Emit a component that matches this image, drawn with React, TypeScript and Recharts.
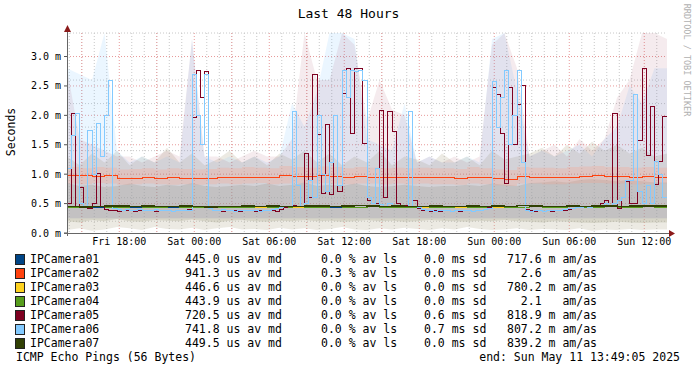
import React from "react";
import { ComposedChart, Line, Area, XAxis, YAxis, CartesianGrid } from "recharts";

// 20-minute medians (145 points, Fri 13:49 .. Sun 13:49), values in ms
const cam05 = [
  0.5, 2.04, 0.45, 0.77, 0.45, 0.42, 0.5, 1.02, 0.45,
  0.4, 0.39, 0.38, 0.37, 0.38, 0.39, 0.38, 0.37, 0.38, 0.39, 0.38, 0.38, 0.37, 0.38, 0.39, 0.38, 0.37, 0.38, 0.38, 0.39, 0.4,
  1.96, 2.77, 2.3, 2.75, 0.45,
  0.39, 0.38, 0.37, 0.38, 0.39, 0.38, 0.37, 0.38, 0.38, 0.39, 0.37, 0.38, 0.38, 0.39, 0.38, 0.37, 0.4, 0.44, 0.45, 0.46, 0.45, 0.45,
  1.36, 0.6, 2.69, 1.67, 0.68, 1.84, 0.65, 2.0, 0.7, 2.38, 2.8, 1.7, 2.8, 2.8, 1.53, 0.56, 0.5, 0.5, 2.09, 0.6, 2.07, 1.73, 0.5, 0.45, 0.46, 0.45, 0.55,
  0.42, 0.39, 0.38, 0.37, 0.38, 0.37, 0.38, 0.38, 0.37, 0.38, 0.37, 0.38, 0.38, 0.37, 0.38, 0.39, 0.4, 0.43,
  2.48, 2.35, 1.7, 0.85, 2.48, 1.5, 2.18, 2.5,
  0.4, 0.38, 0.37, 0.38, 0.37, 0.38, 0.37, 0.38, 0.38, 0.39, 0.4, 0.42, 0.43, 0.44, 0.45, 0.44, 0.45, 0.46, 0.5, 0.55, 0.45,
  2.04, 0.42, 0.6, 0.88, 0.5, 0.5, 1.58, 2.8, 1.31, 2.15, 0.82, 1.22, 1.98, 1.98,
];

const cam06 = [
  1.1, 1.65, 2.04, 0.5, 0.45, 1.75, 1.0, 1.87, 1.3, 2.0, 2.6,
  0.42, 0.4, 0.39, 0.4, 0.38, 0.39, 0.4, 0.38, 0.39, 0.38, 0.4, 0.39, 0.38, 0.39, 0.37, 0.38, 0.39, 0.38, 0.39,
  2.7, 2.0, 1.5, 2.7, 0.42,
  0.39, 0.38, 0.4, 0.38, 0.39, 0.37, 0.38, 0.39, 0.38, 0.38, 0.39, 0.37, 0.38, 0.39, 0.4, 0.41, 0.43, 0.45, 0.45,
  2.06, 0.8, 0.45, 0.5, 0.9, 0.6, 2.0, 1.0, 0.7, 1.2, 2.0, 0.8, 2.77, 2.3, 2.77, 2.75, 2.77, 2.6, 0.6, 0.5, 1.1, 0.48, 0.45, 0.5, 0.47, 0.45, 0.46, 0.45, 2.06, 0.45,
  0.43, 0.4, 0.38, 0.38, 0.37, 0.38, 0.39, 0.38, 0.37, 0.38, 0.38, 0.39, 0.38, 0.37, 0.38, 0.39, 0.4, 0.42,
  2.57, 1.8, 2.3, 2.77, 1.5, 2.0, 2.77, 1.2,
  0.38, 0.37, 0.38, 0.38, 0.37, 0.38, 0.39, 0.38, 0.38, 0.4, 0.41, 0.42, 0.43, 0.44, 0.45, 0.44, 0.45, 0.46, 0.45, 0.5, 0.45,
  0.5, 0.55, 0.6, 0.9, 0.9, 2.35, 0.7, 0.5, 0.8, 0.5, 1.22, 1.0, 0.6, 0.6,
];

// hourly medians (49 points)
const cam01 = [
  0.44, 0.45, 0.44, 0.45, 0.45, 0.44, 0.45, 0.44, 0.44, 0.45, 0.44, 0.44, 0.45, 0.44, 0.45, 0.44, 0.45, 0.44, 0.44, 0.45,
  0.45, 0.44, 0.45, 0.46, 0.45, 0.44, 0.45, 0.44, 0.44, 0.45, 0.44, 0.44, 0.45, 0.44, 0.45, 0.44, 0.46, 0.45, 0.44, 0.44,
  0.45, 0.44, 0.45, 0.45, 0.44, 0.45, 0.45, 0.45, 0.45,
];
const cam02 = [
  0.97, 0.97, 0.96, 0.97, 0.93, 0.93, 0.94, 0.93, 0.94, 0.93, 0.92, 0.92, 0.95, 0.94, 0.95, 0.95, 0.94, 0.98, 0.96, 0.96,
  0.97, 0.96, 0.95, 0.96, 0.95, 0.94, 0.95, 0.94, 0.95, 0.94, 0.94, 0.93, 0.95, 0.94, 0.92, 0.91, 0.96, 0.95, 0.95, 0.94,
  0.95, 0.96, 0.97, 0.96, 0.96, 0.95, 0.96, 0.95, 0.95,
];
const cam03 = [
  0.45, 0.44, 0.45, 0.45, 0.44, 0.45, 0.44, 0.45, 0.45, 0.44, 0.45, 0.45, 0.44, 0.45, 0.45, 0.44, 0.45, 0.45, 0.44, 0.45,
  0.44, 0.45, 0.45, 0.44, 0.45, 0.45, 0.44, 0.45, 0.44, 0.45, 0.45, 0.44, 0.45, 0.45, 0.44, 0.45, 0.44, 0.45, 0.45, 0.44,
  0.45, 0.45, 0.44, 0.45, 0.45, 0.44, 0.45, 0.45, 0.45,
];
const cam04 = [
  0.44, 0.44, 0.45, 0.44, 0.44, 0.45, 0.44, 0.44, 0.45, 0.44, 0.44, 0.45, 0.44, 0.44, 0.44, 0.45, 0.44, 0.44, 0.45, 0.44,
  0.44, 0.45, 0.44, 0.44, 0.45, 0.44, 0.44, 0.44, 0.45, 0.44, 0.44, 0.45, 0.44, 0.44, 0.45, 0.44, 0.44, 0.45, 0.44, 0.44,
  0.45, 0.44, 0.44, 0.45, 0.44, 0.44, 0.45, 0.44, 0.44,
];
const cam07 = [
  0.45, 0.44, 0.45, 0.46, 0.46, 0.45, 0.46, 0.45, 0.45, 0.46, 0.45, 0.44, 0.45, 0.45, 0.46, 0.45, 0.46, 0.45, 0.45, 0.46,
  0.46, 0.45, 0.46, 0.47, 0.46, 0.45, 0.46, 0.45, 0.45, 0.46, 0.45, 0.45, 0.46, 0.45, 0.46, 0.45, 0.47, 0.46, 0.45, 0.45,
  0.46, 0.45, 0.46, 0.46, 0.45, 0.46, 0.46, 0.46, 0.46,
];

// hourly smoke envelopes
const lowOuterLo = [
  0.05, 0.08, 0.04, 0.06, 0.1, 0.08, 0.05, 0.1, 0.07, 0.06, 0.09, 0.05, 0.08, 0.1, 0.06, 0.07, 0.05, 0.09, 0.06, 0.08,
  0.05, 0.07, 0.1, 0.06, 0.05, 0.08, 0.06, 0.09, 0.07, 0.05, 0.08, 0.06, 0.1, 0.07, 0.05, 0.06, 0.08, 0.05, 0.07, 0.06,
  0.05, 0.08, 0.04, 0.06, 0.05, 0.07, 0.05, 0.06, 0.06,
];
const lowOuterHi = [
  1.3, 1.15, 1.35, 1.2, 1.4, 1.15, 1.3, 1.2, 1.45, 1.2, 1.35, 1.15, 1.25, 1.4, 1.2, 1.3, 1.15, 1.35, 1.25, 1.4,
  1.2, 1.35, 1.15, 1.3, 1.2, 1.4, 1.15, 1.3, 1.25, 1.15, 1.35, 1.2, 1.3, 1.15, 1.4, 1.25, 1.3, 1.35, 1.45, 1.3,
  1.5, 1.35, 1.55, 1.4, 1.5, 1.35, 1.45, 1.3, 1.35,
];
const lowInnerLo = [
  0.2, 0.18, 0.22, 0.2, 0.24, 0.2, 0.19, 0.22, 0.21, 0.2, 0.23, 0.2, 0.18, 0.21, 0.22, 0.2, 0.19, 0.21, 0.2, 0.22,
  0.2, 0.21, 0.19, 0.2, 0.22, 0.2, 0.21, 0.19, 0.2, 0.22, 0.21, 0.2, 0.19, 0.21, 0.2, 0.22, 0.2, 0.19, 0.18, 0.2,
  0.19, 0.18, 0.17, 0.18, 0.19, 0.18, 0.17, 0.18, 0.18,
];
const lowInnerHi = [
  0.85, 0.8, 0.82, 0.78, 0.8, 0.84, 0.8, 0.78, 0.82, 0.8, 0.85, 0.8, 0.78, 0.8, 0.82, 0.8, 0.84, 0.8, 0.82, 0.86,
  0.8, 0.82, 0.8, 0.84, 0.8, 0.78, 0.8, 0.82, 0.8, 0.78, 0.8, 0.8, 0.82, 0.8, 0.84, 0.82, 0.8, 0.85, 0.86, 0.88,
  0.86, 0.9, 0.92, 0.9, 0.88, 0.9, 0.88, 0.86, 0.86,
];
const cam02SmokeLo = [
  0.84, 0.83, 0.85, 0.84, 0.82, 0.83, 0.84, 0.83, 0.82, 0.83, 0.82, 0.83, 0.84, 0.83, 0.84, 0.85, 0.83, 0.84, 0.85, 0.84,
  0.85, 0.84, 0.83, 0.84, 0.84, 0.83, 0.84, 0.83, 0.84, 0.83, 0.83, 0.82, 0.84, 0.83, 0.81, 0.8, 0.84, 0.84, 0.83, 0.83,
  0.84, 0.85, 0.85, 0.84, 0.84, 0.83, 0.84, 0.84, 0.84,
];
const cam02SmokeHi = [
  1.12, 1.1, 1.12, 1.11, 1.08, 1.09, 1.1, 1.08, 1.1, 1.09, 1.08, 1.09, 1.11, 1.1, 1.12, 1.11, 1.1, 1.14, 1.12, 1.11,
  1.13, 1.12, 1.1, 1.12, 1.11, 1.1, 1.11, 1.1, 1.11, 1.1, 1.1, 1.09, 1.12, 1.1, 1.08, 1.07, 1.12, 1.11, 1.11, 1.1,
  1.12, 1.13, 1.14, 1.12, 1.12, 1.11, 1.12, 1.11, 1.11,
];
const cam05SmokeHi = [
  2.8, 1.6, 1.5, 1.4, 1.3, 1.3, 1.2, 1.3, 1.4, 1.3, 3.3, 1.3, 1.3, 1.2, 1.3, 1.4, 1.3, 1.3, 1.6, 3.4,
  2.6, 2.6, 3.4, 3.2, 1.9, 2.6, 2.1, 2.0, 1.2, 1.3, 1.2, 1.3, 1.2, 1.3, 3.2, 3.4, 2.8, 1.3, 1.4, 1.5,
  1.3, 1.6, 1.4, 1.6, 2.3, 2.6, 3.4, 3.4, 3.3,
];
const cam06SmokeHi = [
  2.8, 2.7, 2.6, 3.4, 1.4, 1.2, 1.3, 1.2, 1.3, 1.2, 3.3, 1.3, 1.2, 1.3, 1.2, 1.3, 1.2, 1.3, 2.2, 1.8,
  2.4, 3.4, 3.4, 3.3, 1.6, 1.5, 1.4, 2.2, 1.2, 1.3, 1.2, 1.2, 1.3, 1.2, 3.3, 3.4, 2.4, 1.3, 1.4, 1.3,
  1.4, 1.5, 1.3, 1.6, 1.8, 2.5, 2.2, 2.8, 2.8,
];
const spikeSmokeLo = 0.25;

const xTicks = [4.182, 10.182, 16.182, 22.182, 28.182, 34.182, 40.182, 46.182];
const xTickLabels = ["Fri 18:00", "Sat 00:00", "Sat 06:00", "Sat 12:00", "Sat 18:00", "Sun 00:00", "Sun 06:00", "Sun 12:00"];
const yTicks = [0, 0.5, 1.0, 1.5, 2.0, 2.5, 3.0];

const legendRows = [
  { name: "IPCamera01", color: "#004586", md: "445.0 us av md", ls: "0.0 % av ls", sd: "0.0 ms sd", am: "717.6 m am/as" },
  { name: "IPCamera02", color: "#ff420e", md: "941.3 us av md", ls: "0.3 % av ls", sd: "0.0 ms sd", am: "  2.6   am/as" },
  { name: "IPCamera03", color: "#ffd320", md: "446.6 us av md", ls: "0.0 % av ls", sd: "0.0 ms sd", am: "780.2 m am/as" },
  { name: "IPCamera04", color: "#579d1c", md: "443.9 us av md", ls: "0.0 % av ls", sd: "0.0 ms sd", am: "  2.1   am/as" },
  { name: "IPCamera05", color: "#7e0021", md: "720.5 us av md", ls: "0.0 % av ls", sd: "0.6 ms sd", am: "818.9 m am/as" },
  { name: "IPCamera06", color: "#83caff", md: "741.8 us av md", ls: "0.0 % av ls", sd: "0.7 ms sd", am: "807.2 m am/as" },
  { name: "IPCamera07", color: "#314004", md: "449.5 us av md", ls: "0.0 % av ls", sd: "0.0 ms sd", am: "839.2 m am/as" },
];

const rows = cam05.map((v, i) => {
  const r: any = { h: i / 3, c05: v, c06: cam06[i] };
  if (i % 3 === 0) {
    const k = i / 3;
    r.c01 = cam01[k];
    r.c02 = cam02[k];
    r.c03 = cam03[k];
    r.c04 = cam04[k];
    r.c07 = cam07[k];
    r.lowOuter = [lowOuterLo[k], lowOuterHi[k]];
    r.lowInner = [lowInnerLo[k], lowInnerHi[k]];
    r.smoke02 = [cam02SmokeLo[k], cam02SmokeHi[k]];
    r.smoke05 = [spikeSmokeLo, cam05SmokeHi[k]];
    r.smoke06 = [spikeSmokeLo, cam06SmokeHi[k]];
  }
  return r;
});

const minorH: number[] = [];
for (let v = 1; v <= 34; v++) minorH.push(v / 10);
const majorH = [0.5, 1.0, 1.5, 2.0, 2.5, 3.0];
const minorV: number[] = [];
for (let k = 0; k < 48; k++) minorV.push(0.182 + k);
const majorV: number[] = [];
for (let k = 0; k < 16; k++) majorV.push(1.182 + 3 * k);

const mono = "'DejaVu Sans Mono', monospace";

export default function App() {
  const lineProps = { type: "stepAfter" as const, dot: false, strokeWidth: 1, isAnimationActive: false, connectNulls: true, shapeRendering: "crispEdges" };
  const smokeProps = { stroke: "none", isAnimationActive: false, connectNulls: true };
  return (
    <div style={{ position: "absolute", left: 0, top: 0, width: 697, height: 371, background: "#fff", fontFamily: mono, color: "#000" }}>
      <ComposedChart width={697} height={371} data={rows} margin={{ top: 33, right: 30, bottom: 118, left: 7 }}>
        <CartesianGrid horizontalValues={minorH} verticalValues={minorV} stroke="#c8c8c8" strokeDasharray="1 2" />
        <CartesianGrid horizontalValues={majorH} verticalValues={majorV} stroke="#e89a9a" strokeDasharray="1 2" />
        <XAxis
          dataKey="h"
          type="number"
          domain={[0, 48]}
          ticks={xTicks}
          tickFormatter={(v: number) => xTickLabels[xTicks.indexOf(v)]}
          axisLine={false}
          tickLine={false}
          tickSize={3}
          tickMargin={2}
          height={20}
          tick={{ fontSize: 10, fontFamily: mono, fill: "#000" }}
        />
        <YAxis
          type="number"
          domain={[0, 3.4]}
          ticks={yTicks}
          tickFormatter={(v: number) => v.toFixed(1) + " m"}
          axisLine={false}
          tickLine={{ stroke: "#555" }}
          tickSize={3}
          tickMargin={3}
          width={60}
          tick={{ fontSize: 10, fontFamily: mono, fill: "#000" }}
        />
        <Area dataKey="lowOuter" type="linear" fill="#b9b39a" fillOpacity={0.28} {...smokeProps} />
        <Area dataKey="lowInner" type="linear" fill="#a6a58a" fillOpacity={0.3} {...smokeProps} />
        <Area dataKey="smoke06" type="linear" fill="#83caff" fillOpacity={0.16} {...smokeProps} />
        <Area dataKey="smoke05" type="linear" fill="#7e0021" fillOpacity={0.08} {...smokeProps} />
        <Area dataKey="smoke02" type="stepAfter" fill="#ff9a80" fillOpacity={0.25} {...smokeProps} />
        <Line dataKey="c01" stroke="#004586" {...lineProps} />
        <Line dataKey="c02" stroke="#ff420e" {...lineProps} />
        <Line dataKey="c03" stroke="#ffd320" {...lineProps} />
        <Line dataKey="c04" stroke="#579d1c" {...lineProps} />
        <Line dataKey="c05" stroke="#7e0021" {...lineProps} />
        <Line dataKey="c06" stroke="#83caff" {...lineProps} />
        <Line dataKey="c07" stroke="#314004" {...lineProps} strokeWidth={1.5} />
      </ComposedChart>

      {/* axes with arrows */}
      <svg width={697} height={371} style={{ position: "absolute", left: 0, top: 0, pointerEvents: "none" }}>
        <line x1={67.5} y1={236} x2={67.5} y2={30} stroke="#666" strokeWidth={1} />
        <line x1={64} y1={233.5} x2={670} y2={233.5} stroke="#666" strokeWidth={1} />
        <polygon points="64,32 71,32 67.5,25" fill="#8b1a1a" />
        <polygon points="669,230 669,237 675,233.5" fill="#8b1a1a" />
      </svg>

      <div style={{ position: "absolute", left: 0, width: 697, top: 6, textAlign: "center", fontSize: 13, lineHeight: "16px" }}>Last 48 Hours</div>
      <div style={{ position: "absolute", left: 11, top: 132, fontSize: 11.5, lineHeight: "14px", transform: "translate(-50%, -50%) rotate(-90deg)", whiteSpace: "nowrap" }}>Seconds</div>
      <div style={{ position: "absolute", left: 687, top: 60, fontSize: 8.5, lineHeight: "10px", color: "#b0b0b0", transform: "translate(-50%, -50%) rotate(90deg)", whiteSpace: "nowrap" }}>RRDTOOL / TOBI OETIKER</div>

      {legendRows.map((r, i) => {
        const y = 252 + i * 14;
        const txt = { position: "absolute" as const, top: y, fontSize: 11.5, lineHeight: "14px", whiteSpace: "pre" as const };
        return (
          <React.Fragment key={r.name}>
            <div style={{ position: "absolute", left: 15, top: y + 2, width: 8, height: 9, background: r.color, border: "1px solid #222" }} />
            <div style={{ ...txt, left: 30 }}>{r.name}</div>
            <div style={{ ...txt, left: 185 }}>{r.md}</div>
            <div style={{ ...txt, left: 321 }}>{r.ls}</div>
            <div style={{ ...txt, left: 424 }}>{r.sd}</div>
            <div style={{ ...txt, left: 507 }}>{r.am}</div>
          </React.Fragment>
        );
      })}
      <div style={{ position: "absolute", left: 16, top: 350, fontSize: 11.5, lineHeight: "14px", whiteSpace: "pre" }}>ICMP Echo Pings (56 Bytes)</div>
      <div style={{ position: "absolute", right: 17, top: 350, fontSize: 11.5, lineHeight: "14px", whiteSpace: "pre" }}>end: Sun May 11 13:49:05 2025</div>
    </div>
  );
}
